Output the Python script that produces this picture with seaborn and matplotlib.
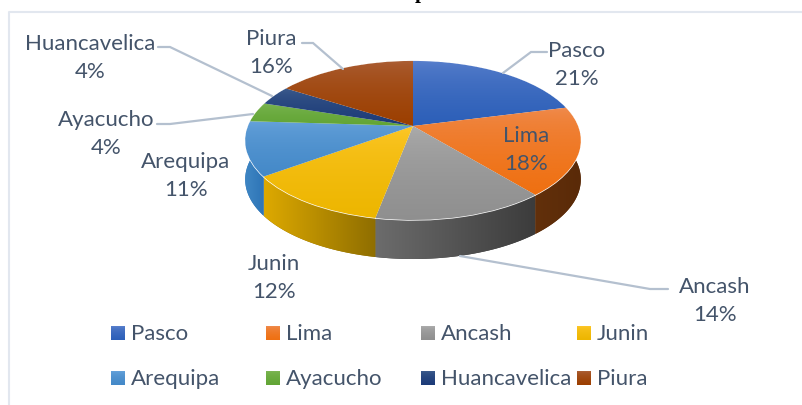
#!/usr/bin/env python3

# 3D looking pie: ax.pie wedges pushed through a perspective transform.

import numpy as np
import matplotlib

matplotlib.use("Agg")
import matplotlib.pyplot as plt
from matplotlib.colors import LinearSegmentedColormap
from matplotlib.patches import Polygon, Rectangle
from matplotlib.transforms import Transform
import seaborn as sns

NAMES = ["Pasco", "Lima", "Ancash", "Junin", "Arequipa", "Ayacucho", "Huancavelica", "Piura"]
VALUES = [21, 18, 14, 12, 11, 4, 4, 16]

# top face gradient, light to base
TOP_LIGHT = ["#5F84CF", "#EF8E55", "#B0B0B0", "#FFC92E", "#6AA5DD", "#80B857", "#41608F", "#AD633D"]
TOP_BASE = ["#2C5FB8", "#EF7011", "#8F8F8F", "#EDB600", "#4489C8", "#62A535", "#1C3B78", "#9C3F00"]
# side wall gradient, left to right
WALL_LEFT = ["#25509B", "#62300B", "#6C6C6C", "#DDA900", "#3F86C4", "#4F8A2A", "#16305F", "#7E3300"]
WALL_RIGHT = ["#1C3E78", "#5A2A08", "#3C3C3C", "#8F6E00", "#2E75B6", "#3F6F22", "#122850", "#662900"]

LABEL_X = [577, 526, 715, 274, 186, 106, 90, 271]
LABEL_Y = [65, 150, 301, 278, 176, 134, 58, 53]

LEADERS = [
    ([547, 531, 503], [53, 53, 74]),
    ([158, 170, 272], [48, 48, 97]),
    ([302, 313, 343], [44, 44, 70]),
    ([157, 170, 253], [125, 125, 115]),
    ([668, 650, 460], [290, 290, 257]),
]

LEGEND_X = [111, 266, 421, 577]
LEGEND_Y = [334, 379]

TEXT_COLOR = "#44546A"
LINE_COLOR = "#B4C0CF"
BORDER_COLOR = "#E2E7EF"

CX, CY = 413, 127
SCALE_X, SCALE_Y, TILT = 165.0, 76.9, 0.182
DEPTH = 39


class Perspective(Transform):
    """Unit pie coordinates to picture pixels, far side squeezed."""

    input_dims = 2
    output_dims = 2

    def transform_non_affine(self, values):
        values = np.asarray(values)
        w = 1 + TILT * values[:, 1]
        return np.column_stack(
            [CX + SCALE_X * values[:, 0] / w, CY - SCALE_Y * values[:, 1] / w]
        )


def gradient(ax, clip, box, colors, horizontal, zorder):
    """Fill box with a two colour gradient, cut to the clip patch"""
    cmap = LinearSegmentedColormap.from_list("g", colors)
    ramp = np.linspace(0, 1, 128)
    if not horizontal:
        # top faces settle on the base colour early
        ramp = np.sqrt(ramp)
    ramp = ramp[None, :] if horizontal else ramp[:, None]
    x0, x1, y0, y1 = box
    im = ax.imshow(
        ramp,
        cmap=cmap,
        vmin=0,
        vmax=1,
        extent=(x0, x1, y1, y0),
        origin="upper",
        aspect="auto",
        zorder=zorder,
    )
    im.set_clip_path(clip)


def main():
    sns.set_theme(style="white")
    plt.rcParams["font.family"] = ["Lato", "DejaVu Sans"]

    fig = plt.figure(figsize=(8.03, 4.06), dpi=100)
    ax = fig.add_axes([0, 0, 1, 1])
    palette = sns.color_palette(TOP_BASE)
    wedges, _ = ax.pie(VALUES, colors=palette, startangle=90, counterclock=False, radius=1)

    proj = Perspective()
    to_screen = proj + ax.transData
    for i, w in enumerate(wedges):
        # side wall, swept straight down from the rim
        t = np.radians(np.linspace(w.theta1, w.theta2, 80))
        rim = proj.transform(np.column_stack([np.cos(t), np.sin(t)]))
        low = rim + [0, DEPTH]
        wall = Polygon(np.vstack([rim, low[::-1]]), closed=True, fc=WALL_RIGHT[i], ec="none", zorder=1)
        ax.add_patch(wall)
        gradient(
            ax,
            wall,
            (rim[:, 0].min(), rim[:, 0].max(), rim[:, 1].min(), low[:, 1].max()),
            [WALL_LEFT[i], WALL_RIGHT[i]],
            True,
            1.5,
        )

    for i, w in enumerate(wedges):
        w.set_transform(to_screen)
        w.set_zorder(2 + i * 0.01)
        pts = proj.transform(w.get_path().vertices)
        gradient(
            ax,
            w,
            (pts[:, 0].min(), pts[:, 0].max(), pts[:, 1].min(), pts[:, 1].max()),
            [TOP_LIGHT[i], TOP_BASE[i]],
            False,
            3 + i * 0.01,
        )

    for xs, ys in LEADERS:
        ax.plot(xs, ys, color=LINE_COLOR, lw=1.6, zorder=4, solid_joinstyle="miter")

    for name, value, x, y in zip(NAMES, VALUES, LABEL_X, LABEL_Y):
        ax.text(
            x, y, f"{name}\n{value}%", ha="center", va="center", fontsize=16,
            color=TEXT_COLOR, linespacing=1.55, zorder=5,
        )

    # legend rows, 4 per row
    for i, name in enumerate(NAMES):
        x = LEGEND_X[i % 4]
        y = LEGEND_Y[i // 4]
        box = Rectangle((x, y - 7), 14, 14, fc=TOP_BASE[i], ec="none", zorder=2)
        ax.add_patch(box)
        gradient(ax, box, (x, x + 14, y - 7, y + 7), [TOP_LIGHT[i], TOP_BASE[i]], False, 3)
        ax.text(x + 20, y, name, ha="left", va="center", fontsize=16, color=TEXT_COLOR)

    # frame of the pasted chart, and what is left of the title above it
    ax.plot([9, 9, 803], [406, 13, 13], color=BORDER_COLOR, lw=1.5, zorder=0)
    ax.text(421, -7, "p", ha="center", va="center", fontsize=15, fontweight="bold",
            family="Liberation Serif", color="black")

    ax.set_aspect("auto")
    ax.set_xlim(0, 803)
    ax.set_ylim(406, 0)
    ax.axis("off")
    fig.savefig("out.png", dpi=100)


if __name__ == "__main__":
    main()
